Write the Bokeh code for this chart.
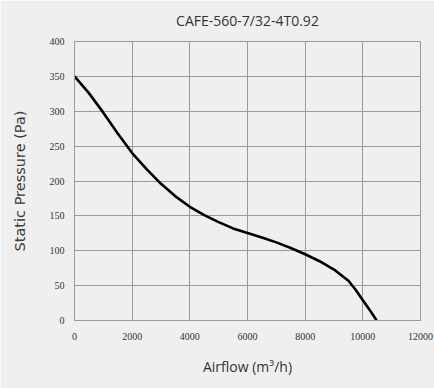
from bokeh.plotting import figure
from bokeh.models import Title, FixedTicker
from bokeh.embed import file_html
from bokeh.resources import INLINE

title_text = "CAFE-560-7/32-4T0.92"
x_label = "Airflow (m³/h)"
y_label = "Static Pressure (Pa)"
x_ticks = [0, 2000, 4000, 6000, 8000, 10000, 12000]
y_ticks = [0, 50, 100, 150, 200, 250, 300, 350, 400]
airflow = [0, 500, 1000, 1500, 2000, 2500, 3000, 3500, 4000, 4500, 5000, 5500, 6000,
           6500, 7000, 7500, 8000, 8500, 9000, 9500, 9750, 10000, 10250, 10480]
pressure = [350, 326, 298, 268, 240, 217, 196, 178, 163, 151, 141, 132, 125.5,
            119, 112, 104, 95, 85, 73, 57, 44, 29, 14.4, 0]

BG = "#efefef"
GRID = "#9a9a9a"
TXT = "#333333"

p = figure(width=434, height=388, x_range=(0, 12000), y_range=(0, 400),
           output_backend="svg", toolbar_location=None,
           min_border_left=74, min_border_right=14, min_border_top=41, min_border_bottom=68,
           background_fill_color=BG, border_fill_color=BG)
p.outline_line_color = GRID
p.outline_line_width = 1

p.xaxis.ticker = FixedTicker(ticks=x_ticks)
p.yaxis.ticker = FixedTicker(ticks=y_ticks)
for ax in (p.xaxis, p.yaxis):
    ax.axis_line_color = GRID
    ax.major_tick_line_color = None
    ax.minor_tick_line_color = None
    ax.major_label_text_font = "Liberation Sans Narrow"
    ax.major_label_text_font_size = "10px"
    ax.major_label_text_color = TXT
p.xaxis.major_label_standoff = 6
p.yaxis.major_label_standoff = 4

p.yaxis.axis_label = y_label
p.yaxis.axis_label_text_font = "DejaVu Sans"
p.yaxis.axis_label_text_font_size = "14.5px"
p.yaxis.axis_label_text_font_style = "normal"
p.yaxis.axis_label_text_color = "#3a3a3a"
p.yaxis.axis_label_standoff = 19

p.xgrid.ticker = FixedTicker(ticks=x_ticks)
p.ygrid.ticker = FixedTicker(ticks=y_ticks)
p.grid.grid_line_color = GRID
p.grid.grid_line_width = 1

p.line(airflow, pressure, line_color="black", line_width=2.6, line_join="round")

p.add_layout(Title(text=title_text, align="center", offset=-12, vertical_align="top",
                   text_font="Open Sans", text_font_size="14px", text_font_style="normal",
                   text_color=TXT, standoff=20), "above")
p.add_layout(Title(text=x_label, align="center", offset=-12, vertical_align="bottom",
                   text_font="Open Sans", text_font_size="14px", text_font_style="normal",
                   text_color=TXT, standoff=25), "below")

open("out.html", "w").write(file_html(p, INLINE))
